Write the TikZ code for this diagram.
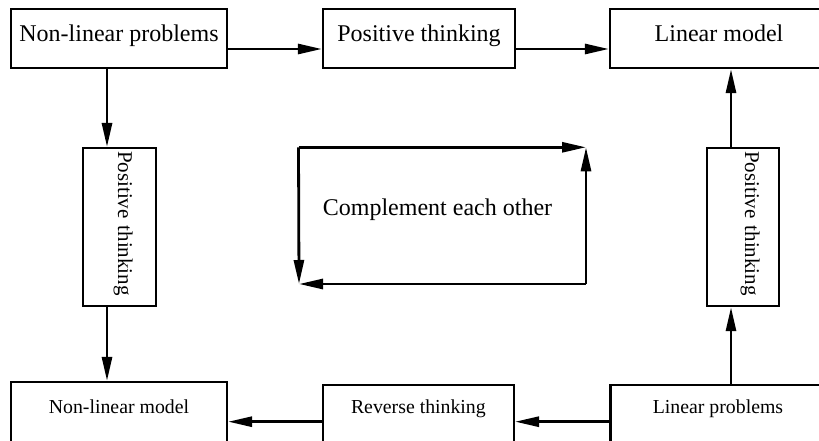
\documentclass[tikz,border=0pt]{standalone}
\usepackage{fontspec}
\setmainfont{Liberation Serif}
\usetikzlibrary{arrows.meta}
\tikzset{
x=1pt, y=-1pt, % pixel-like units, y goes down
flow/.style={-{Triangle[length=24pt,width=10pt]}, line width=2.8pt}, % the connectors
box/.style={draw, line width=2.2pt, inner sep=0pt, anchor=base}, % every plain box
big/.style={font=\fontsize{24}{28}\selectfont, text height=33pt, text depth=26pt}, % top row
small/.style={font=\fontsize{19.8}{24}\selectfont, text height=28pt, text depth=48pt}, % bottom row
vbox/.style={draw, line width=2.2pt, rotate=-90, anchor=base west, inner ysep=0pt, inner xsep=3pt,
  text width=152pt, align=left, font=\fontsize{21}{25}\selectfont}, % upright boxes
}
\begin{document}
\begin{tikzpicture}

\useasboundingbox (0,0) rectangle (819,441);
\clip (0,0) rectangle (819,441);

\node[box, big, minimum width=216pt] at (119,42) (nlp) {Non-linear problems};
\node[box, big, minimum width=192pt] at (419,42) (pt1) {Positive thinking};
\node[box, big, minimum width=218pt] at (719,42) (lm) {Linear model};
\node[vbox, text height=38pt, text depth=35pt] at (118,147) (ptl) {Positive thinking};
\node[vbox, text height=34pt, text depth=38pt] at (745,147) (ptr) {Positive thinking};
\node[box, small, minimum width=216pt, text height=31pt] at (119,413) (nlm) {Non-linear model};
\node[box, small, minimum width=191pt] at (418.4,413) (rt) {Reverse thinking};
\node[box, small, minimum width=215pt] at (718,413) (lp) {Linear problems};
\node[font=\fontsize{24}{28}\selectfont, anchor=base] at (437.5,215) (ce) {Complement each other};

\coordinate (colL) at ([xshift=-12pt]nlp.south);
\coordinate (colR) at ([xshift=13pt]lp.north);

\draw[flow] ([yshift=-7pt]nlp.base east) -- ([yshift=-7pt]pt1.base west);
\draw[flow] ([yshift=-7pt]pt1.base east) -- ([yshift=-7pt]lm.base west);
\draw[flow] (colL) -- (colL |- ptl.west);
\draw[flow] (colL |- ptl.east) -- (colL |- nlm.north);
\draw[flow] (colR) -- (colR |- ptr.east);
\draw[flow] (colR |- ptr.west) -- (colR |- lm.south);
\draw[flow] ([yshift=-8.7pt]lp.base west) -- ([yshift=-8.7pt]rt.base east);
\draw[flow] ([yshift=-8.7pt]rt.base west) -- ([yshift=-8.7pt]nlm.base east);

% the loop round the middle text
\coordinate (c1) at (298.5,147.3);
\coordinate (c2) at (586,147.3);
\coordinate (c3) at (586,284);
\coordinate (c4) at (299,284);
\draw[flow] (c1) -- (c2);
\draw[flow] (c3) -- (c2);
\draw[flow] (c3) -- (c4);
\draw[flow] (c1) -- (c4);

\end{tikzpicture}
\end{document}
